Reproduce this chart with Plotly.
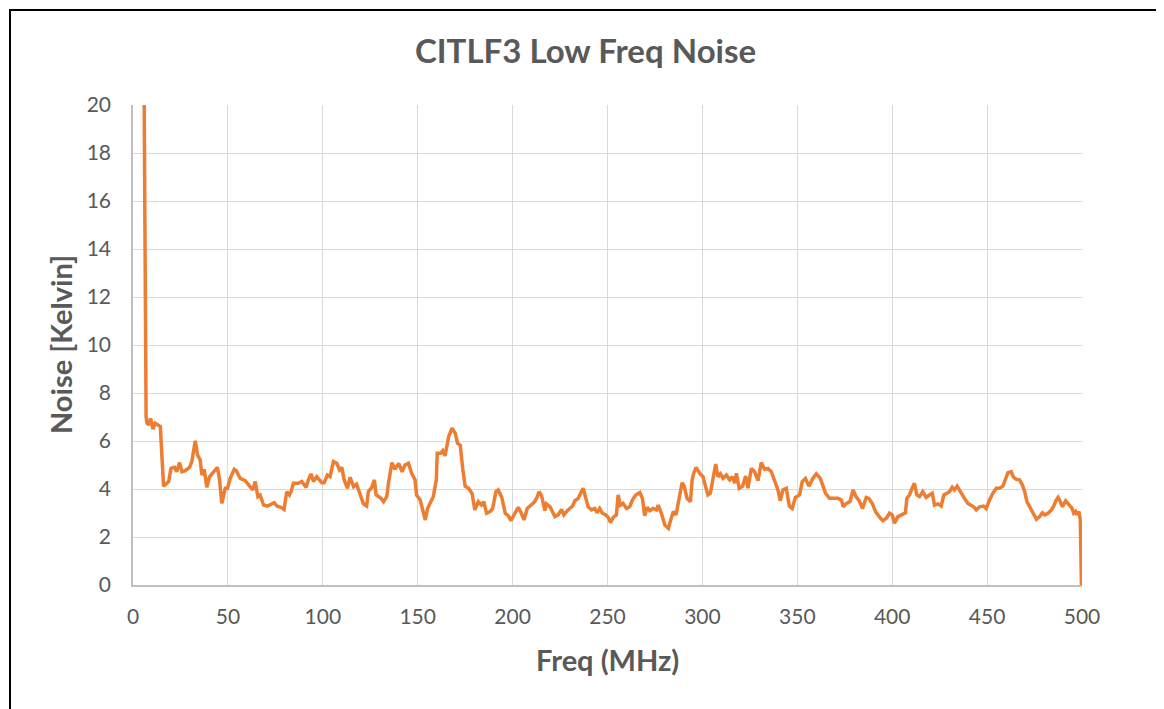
import plotly.graph_objects as go

# Frequency (MHz) and noise (Kelvin)
freq_mhz = [
    5.9, 6.3, 6.9, 7.4, 8.2, 9.3, 10.5, 11.7, 14.4, 16.1, 18.8, 20.0, 21.9, 23.1, 24.5,
    25.8, 27.5, 29.8, 31.0, 32.8, 34.0, 35.4, 36.3, 37.5, 38.9, 40.3, 42.4, 44.5, 45.6,
    46.8, 48.6, 49.8, 51.2, 53.3, 54.4, 56.5, 59.1, 61.4, 63.1, 64.4, 65.8, 67.0, 68.8,
    70.9, 73.1, 74.4, 75.8, 77.9, 79.6, 81.0, 82.4, 83.3, 84.5, 87.2, 88.9, 91.2, 92.4,
    93.8, 95.1, 96.8, 99.5,
    100.7, 102.4, 103.8, 105.6, 107.4, 108.8, 110.0, 111.2, 113.0, 114.4, 116.2, 117.8,
    119.8, 121.4, 123.1, 124.0, 125.8, 127.2, 128.1, 130.2, 132.0, 133.7, 134.6, 136.4,
    138.0, 140.0, 141.8, 143.3, 145.1, 146.8, 148.6, 149.4, 151.3, 152.6, 154.0, 155.2,
    156.5, 158.2, 159.8, 160.3, 162.1, 163.2, 164.4, 166.3, 168.1, 169.8, 171.0, 172.4,
    173.8, 175.0, 176.8, 178.6, 180.1, 181.9, 183.6, 184.8, 186.3, 188.1, 189.5, 191.2,
    192.4, 194.3, 196.1, 197.8, 199.1,
    200.7, 203.0, 204.2, 206.0, 207.7, 209.5, 211.2, 212.6, 214.0, 215.3, 217.0, 217.9,
    219.7, 222.3, 224.0, 225.8, 227.0, 228.8, 230.2, 231.6, 232.8, 234.6, 235.8, 237.2,
    238.6, 239.8, 241.6, 243.3, 244.5, 245.9, 247.3, 249.1, 250.3, 251.6, 253.0, 254.7,
    255.6, 256.8, 258.2, 260.0, 261.7, 263.1, 264.9, 267.0, 268.4, 269.6, 270.9, 272.3,
    274.0, 275.8, 276.7, 278.4, 280.2, 282.1, 283.3, 284.7, 286.1, 287.5, 289.3, 290.5,
    291.9, 293.7, 294.6, 295.4, 296.7,
    298.6, 300.3, 301.7, 302.9, 304.2, 305.6, 307.0, 308.2, 309.5, 310.9, 312.6, 314.4,
    315.8, 317.0, 317.9, 319.4, 321.2, 322.8, 324.0, 325.8, 327.5, 329.3, 331.0, 332.8,
    334.5, 336.3, 338.0, 339.8, 341.0, 342.4, 344.2, 345.8, 347.3, 349.0, 351.2, 352.6,
    354.3, 356.1, 358.2, 360.0, 362.1, 363.8, 364.9, 367.0, 369.1, 371.4, 373.3, 374.2,
    375.9, 377.7, 379.4, 380.9, 382.6, 384.4, 386.3, 387.7, 389.6, 391.2, 393.4, 395.1,
    396.9,
    398.6, 400.0, 401.2, 403.0, 404.7, 407.0, 407.7, 409.1, 410.5, 411.7, 413.0, 414.4,
    416.1, 417.9, 419.6, 421.1, 422.3, 424.1, 425.8, 427.2, 428.8, 430.2, 431.6, 432.8,
    434.2, 435.4, 436.9, 438.1, 439.9, 441.1, 442.9, 444.3, 446.0, 448.1, 449.5, 451.3,
    453.0, 454.8, 456.5, 458.3, 459.7, 461.0, 462.7, 463.9, 465.4, 467.1, 468.6, 469.8,
    471.0, 472.4, 474.2, 476.0, 477.7, 479.1, 480.4, 482.1, 483.9, 485.1, 486.2, 487.4,
    488.6, 489.7, 491.4, 493.2, 494.8, 495.6, 496.6, 497.3, 498.4, 499.1, 499.7,
]

noise_k = [
    20.0, 14.0, 7.0, 6.74, 6.67, 6.94, 6.49, 6.74, 6.6, 4.12, 4.31, 4.86, 4.9, 4.72, 5.1,
    4.72, 4.76, 4.9, 5.14, 6.01, 5.42, 5.21, 4.58, 4.82, 4.07, 4.51, 4.68, 4.9, 4.38,
    3.4, 4.03, 4.03, 4.44, 4.82, 4.76, 4.44, 4.35, 4.12, 3.96, 4.31, 3.68, 3.75, 3.33,
    3.29, 3.38, 3.43, 3.29, 3.24, 3.15, 3.89, 3.75, 3.89, 4.24, 4.24, 4.31, 4.07, 4.38,
    4.63, 4.31, 4.51, 4.26,
    4.26, 4.58, 4.51, 5.14, 5.07, 4.79, 4.9, 4.4, 4.03, 4.49, 4.1, 4.2,
    3.75, 3.38, 3.29, 3.89, 4.07, 4.38, 3.75, 3.65, 3.47, 3.68, 4.24, 5.1,
    4.82, 5.07, 4.72, 5.0, 5.07, 4.65, 4.38, 3.75, 3.54, 3.13, 2.71, 3.19,
    3.4, 3.68, 4.38, 5.49, 5.49, 5.6, 5.38, 6.18, 6.53, 6.32, 5.9, 5.83,
    4.79, 4.12, 4.03, 3.82, 3.13, 3.47, 3.33, 3.47, 2.99, 3.06, 3.19, 3.89,
    3.96, 3.65, 2.99, 2.88, 2.68,
    2.92, 3.24, 3.06, 2.71, 3.19, 3.33, 3.43, 3.61, 3.89, 3.71, 3.1, 3.38,
    3.26, 2.85, 2.92, 3.15, 2.92, 3.1, 3.19, 3.29, 3.51, 3.61, 3.82, 4.03,
    3.61, 3.26, 3.13, 3.19, 3.01, 3.19, 2.99, 2.92, 2.82, 2.6, 2.82, 2.92,
    3.75, 3.33, 3.4, 3.19, 3.26, 3.54, 3.75, 3.85, 3.61, 2.88, 3.24, 3.1,
    3.19, 3.13, 3.33, 2.99, 2.5, 2.36, 2.71, 3.06, 2.92, 3.43, 4.26, 4.1,
    3.61, 3.47, 4.38, 4.65, 4.9,
    4.65, 4.51, 4.1, 3.75, 3.82, 4.51, 5.04, 4.51, 4.63, 4.44, 4.58, 4.38,
    4.51, 4.24, 4.65, 4.03, 4.12, 4.54, 4.03, 4.86, 4.72, 4.35, 5.1, 4.82,
    4.86, 4.72, 4.31, 3.96, 3.51, 3.96, 4.03, 3.29, 3.19, 3.65, 3.75, 4.31,
    4.44, 4.12, 4.44, 4.63, 4.44, 4.1, 3.82, 3.61, 3.61, 3.61, 3.54, 3.26,
    3.4, 3.47, 3.96, 3.68, 3.51, 3.19, 3.65, 3.61, 3.38, 3.06, 2.82, 2.68,
    2.78,
    2.99, 2.92, 2.57, 2.85, 2.92, 3.01, 3.61, 3.75, 4.03, 4.24, 3.75, 3.68,
    3.89, 3.65, 3.75, 3.82, 3.33, 3.38, 3.29, 3.75, 3.82, 3.89, 4.07, 3.96,
    4.12, 3.96, 3.71, 3.61, 3.4, 3.33, 3.26, 3.13, 3.26, 3.29, 3.19, 3.54,
    3.82, 4.03, 4.03, 4.12, 4.44, 4.68, 4.72, 4.49, 4.4, 4.38, 4.17, 3.89,
    3.47, 3.26, 2.99, 2.74, 2.85, 3.01, 2.92, 2.99, 3.13, 3.29, 3.51, 3.65,
    3.47, 3.26, 3.51, 3.33, 3.19, 2.99, 3.06, 2.92, 3.06, 2.71, 0.0,
]

x_ticks = [0, 50, 100, 150, 200, 250, 300, 350, 400, 450, 500]
y_ticks = [0, 2, 4, 6, 8, 10, 12, 14, 16, 18, 20]

TEXT = "#595959"
FONT = "Lato"

# Page body adds an 8px margin, so the figure is 8px smaller and margins shifted.
W, H = 1156, 701
ML, MR, MT, MB = 125, 82, 97, 124
PW, PH = W - ML - MR, H - MT - MB

fig = go.Figure(
    go.Scatter(
        x=freq_mhz, y=noise_k, mode="lines",
        line=dict(color="#ED7D31", width=3.5),
        showlegend=False,
    )
)

fig.update_layout(
    width=W, height=H,
    margin=dict(l=ML, r=MR, t=MT, b=MB),
    paper_bgcolor="white", plot_bgcolor="white",
    font=dict(family=FONT, color=TEXT, size=21),
    xaxis=dict(
        range=[0, 500], tickvals=x_ticks, ticktext=[str(v) for v in x_ticks],
        showgrid=True, gridcolor="#d9d9d9", gridwidth=1,
        showline=True, linecolor="#bfbfbf", linewidth=1.5,
        zeroline=False, ticks="", ticklabelstandoff=12,
        tickfont=dict(family=FONT, color=TEXT, size=21),
    ),
    yaxis=dict(
        range=[0, 20], tickvals=y_ticks, ticktext=[str(v) for v in y_ticks],
        showgrid=True, gridcolor="#d9d9d9", gridwidth=1,
        showline=True, linecolor="#bfbfbf", linewidth=1.5,
        zeroline=False, ticks="", ticklabelstandoff=16,
        tickfont=dict(family=FONT, color=TEXT, size=21),
    ),
    annotations=[
        dict(text="<b>CITLF3 Low Freq Noise</b>", x=0.477, y=1.115, xref="paper", yref="paper",
             xanchor="center", yanchor="middle", showarrow=False,
             font=dict(family=FONT, size=33, color=TEXT)),
        dict(text="<b>Freq (MHz)</b>", x=0.5005, y=-0.156, xref="paper", yref="paper",
             xanchor="center", yanchor="middle", showarrow=False,
             font=dict(family=FONT, size=29, color=TEXT)),
        dict(text="<b>Noise [Kelvin]</b>", x=-0.0769, y=0.5, xref="paper", yref="paper",
             xanchor="center", yanchor="middle", showarrow=False, textangle=-90,
             font=dict(family=FONT, size=29, color=TEXT)),
    ],
    shapes=[
        dict(type="rect", xref="paper", yref="paper",
             x0=(2 - ML) / PW, x1=(W + 20 - ML) / PW,
             y0=-(MB + 20) / PH, y1=(PH + MT - 2) / PH,
             line=dict(color="black", width=2), fillcolor="rgba(0,0,0,0)", layer="below"),
    ],
)

fig.write_html("out.html")
